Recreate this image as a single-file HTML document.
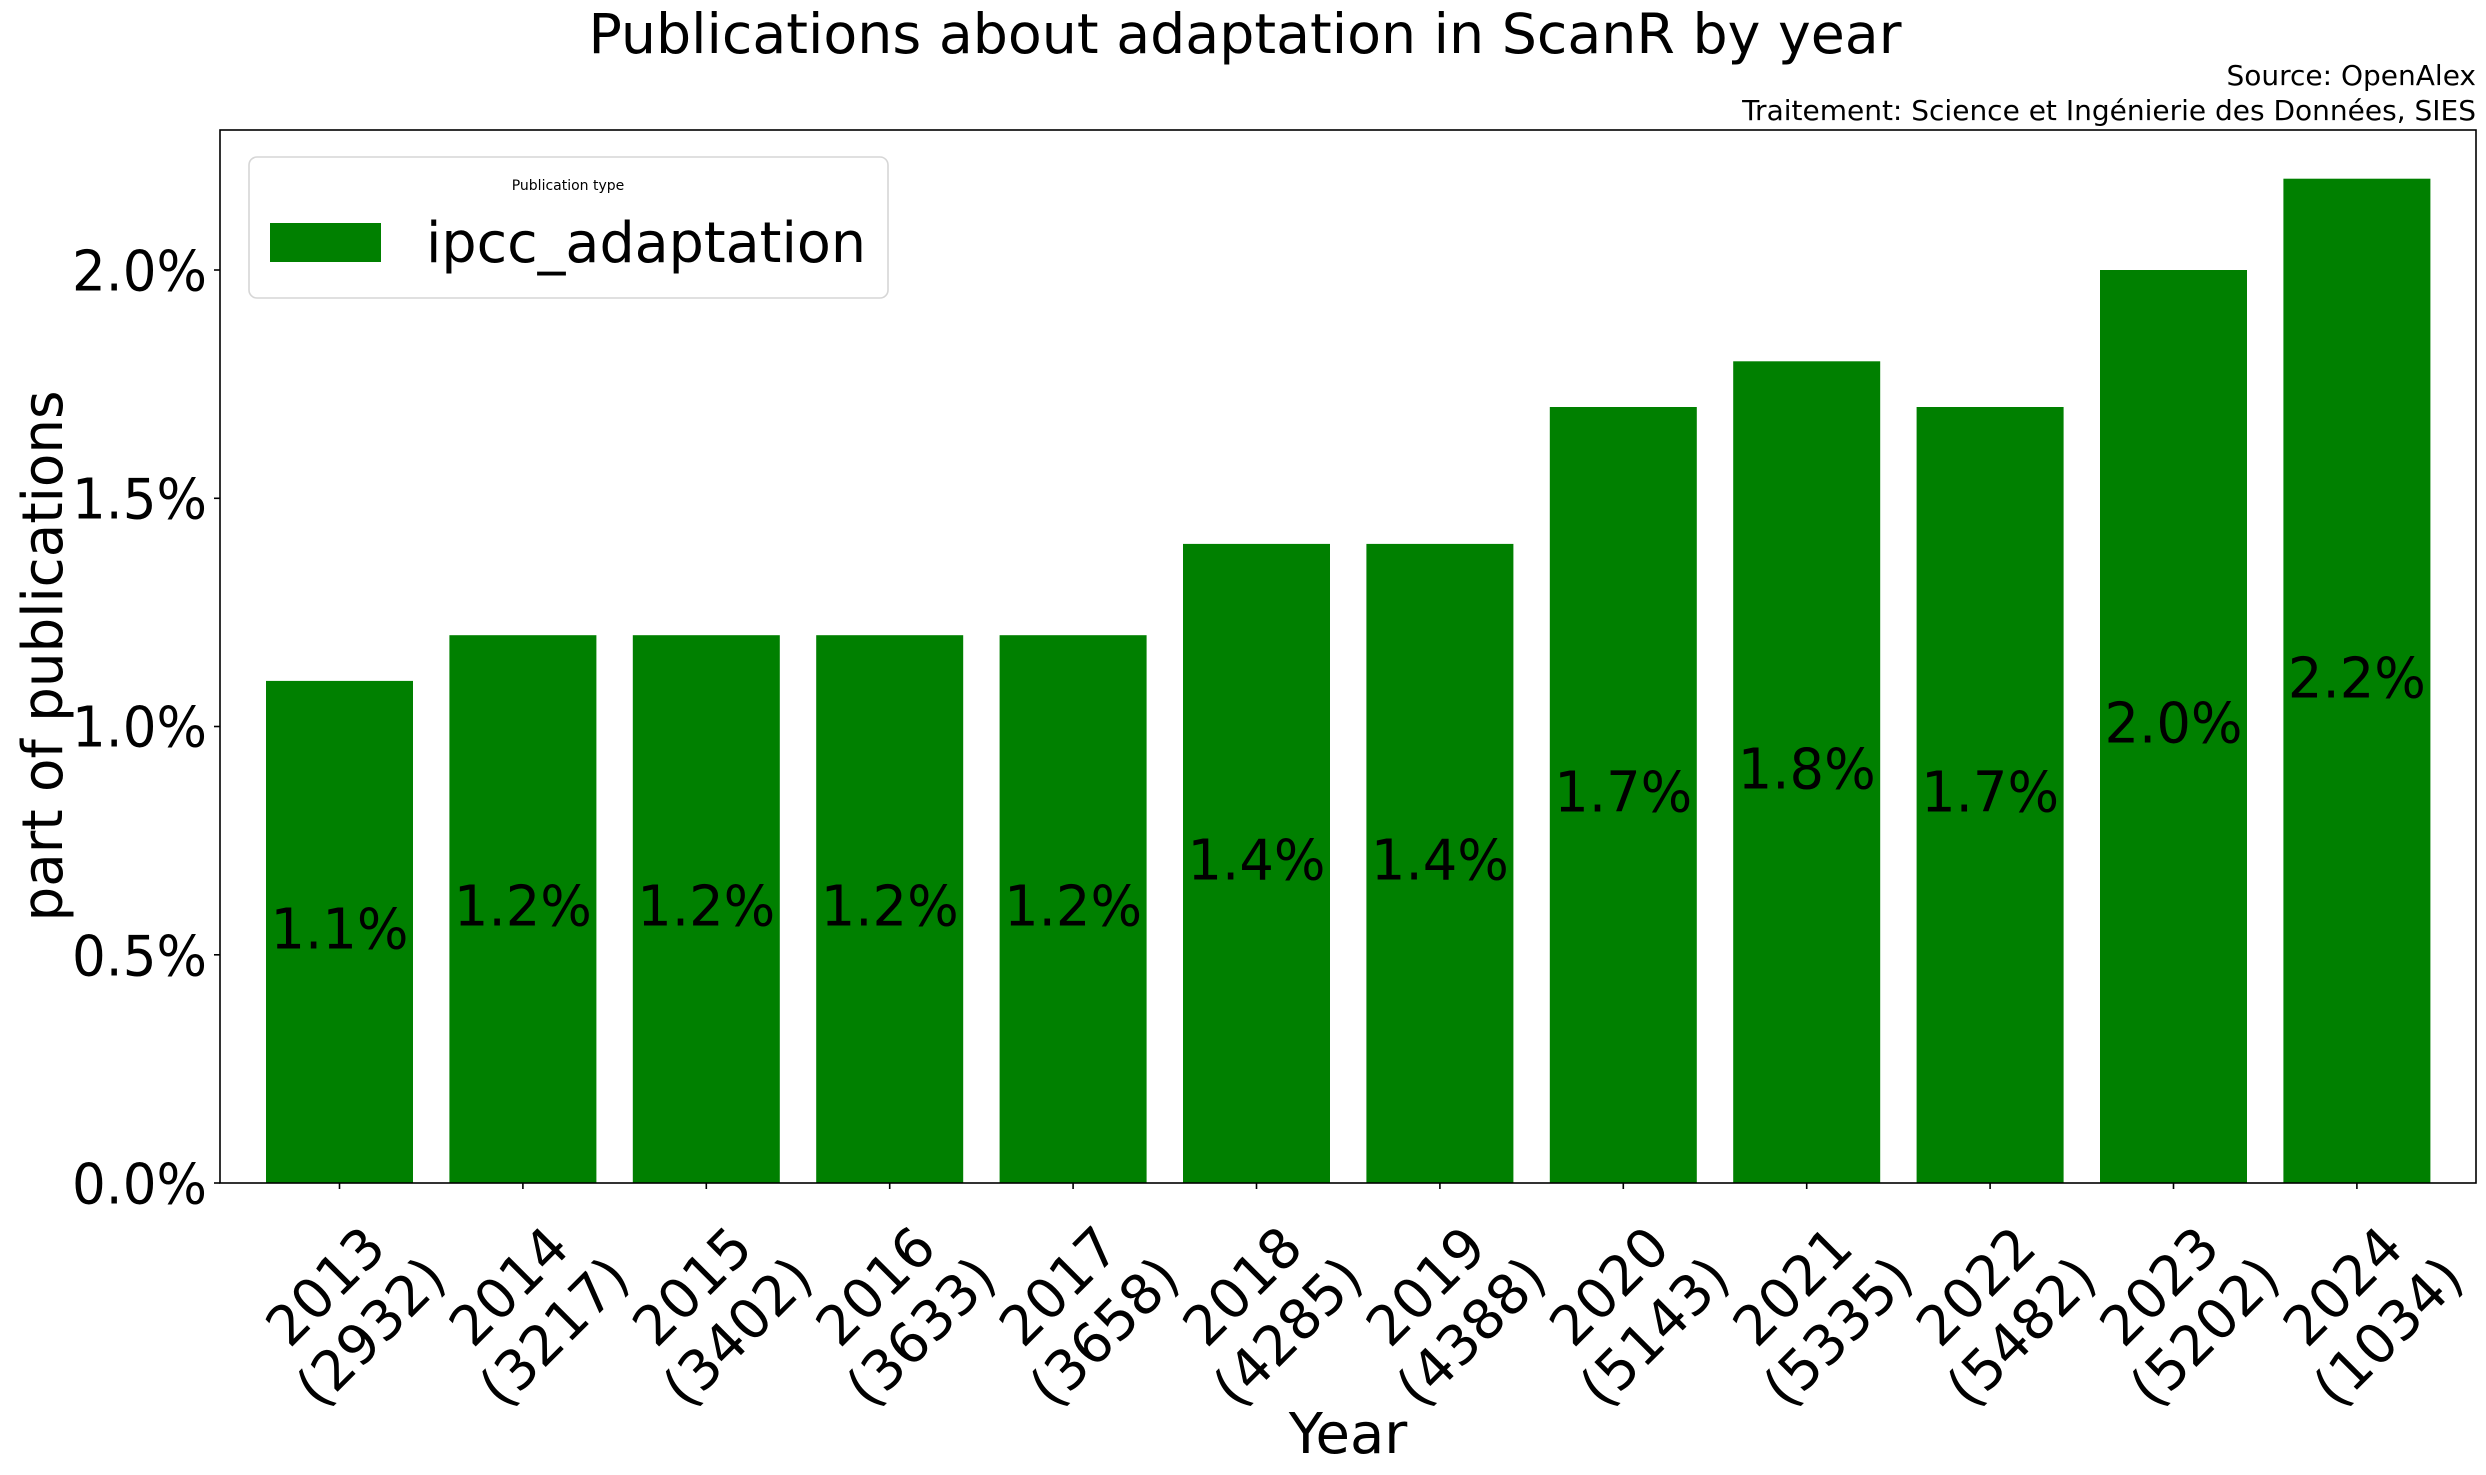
<!DOCTYPE html>
<html><head><meta charset="utf-8"><style>
html,body{margin:0;padding:0;background:#fff;}
svg{display:block;font-family:"DejaVu Sans","Liberation Sans",sans-serif;}
</style></head><body>
<svg width="2486" height="1475" viewBox="0 0 2486 1475" xmlns="http://www.w3.org/2000/svg">
<rect width="2486" height="1475" fill="#fff"/>
<text x="1245" y="53" font-size="55" text-anchor="middle" textLength="1313" lengthAdjust="spacingAndGlyphs">Publications about adaptation in ScanR by year</text>
<text x="2476" y="85" font-size="28" text-anchor="end">Source: OpenAlex</text>
<text x="2476" y="120" font-size="28" text-anchor="end">Traitement: Science et Ingénierie des Données, SIES</text>
<g fill="#008000">
<rect x="266" y="680.9" width="147" height="502.1"/>
<rect x="449.4" y="635.2" width="147" height="547.8"/>
<rect x="632.8" y="635.2" width="147" height="547.8"/>
<rect x="816.2" y="635.2" width="147" height="547.8"/>
<rect x="999.6" y="635.2" width="147" height="547.8"/>
<rect x="1183" y="543.9" width="147" height="639.1"/>
<rect x="1366.4" y="543.9" width="147" height="639.1"/>
<rect x="1549.8" y="407" width="147" height="776"/>
<rect x="1733.2" y="361.3" width="147" height="821.7"/>
<rect x="1916.6" y="407" width="147" height="776"/>
<rect x="2100" y="270" width="147" height="913"/>
<rect x="2283.4" y="178.7" width="147" height="1004.3"/>
</g>
<g font-size="56" text-anchor="middle" dominant-baseline="central" lengthAdjust="spacingAndGlyphs">
<text x="339.5" y="930" textLength="138" lengthAdjust="spacingAndGlyphs">1.1%</text>
<text x="522.9" y="907" textLength="138" lengthAdjust="spacingAndGlyphs">1.2%</text>
<text x="706.3" y="907" textLength="138" lengthAdjust="spacingAndGlyphs">1.2%</text>
<text x="889.7" y="907" textLength="138" lengthAdjust="spacingAndGlyphs">1.2%</text>
<text x="1073.1" y="907" textLength="138" lengthAdjust="spacingAndGlyphs">1.2%</text>
<text x="1256.5" y="861" textLength="138" lengthAdjust="spacingAndGlyphs">1.4%</text>
<text x="1439.9" y="861" textLength="138" lengthAdjust="spacingAndGlyphs">1.4%</text>
<text x="1623.3" y="793" textLength="138" lengthAdjust="spacingAndGlyphs">1.7%</text>
<text x="1806.7" y="770" textLength="138" lengthAdjust="spacingAndGlyphs">1.8%</text>
<text x="1990.1" y="793" textLength="138" lengthAdjust="spacingAndGlyphs">1.7%</text>
<text x="2173.5" y="724" textLength="138" lengthAdjust="spacingAndGlyphs">2.0%</text>
<text x="2356.9" y="679" textLength="138" lengthAdjust="spacingAndGlyphs">2.2%</text>
</g>
<rect x="220" y="130" width="2256" height="1053" fill="none" stroke="#000" stroke-width="1.6"/>
<g stroke="#000" stroke-width="1.6">
<line x1="214" y1="1183" x2="220" y2="1183"/>
<line x1="214" y1="954.8" x2="220" y2="954.8"/>
<line x1="214" y1="726.5" x2="220" y2="726.5"/>
<line x1="214" y1="498.3" x2="220" y2="498.3"/>
<line x1="214" y1="270" x2="220" y2="270"/>
</g>
<g font-size="56" text-anchor="end" dominant-baseline="central">
<text x="207" y="1185" textLength="135" lengthAdjust="spacingAndGlyphs">0.0%</text>
<text x="207" y="957" textLength="135" lengthAdjust="spacingAndGlyphs">0.5%</text>
<text x="207" y="728" textLength="135" lengthAdjust="spacingAndGlyphs">1.0%</text>
<text x="207" y="500" textLength="135" lengthAdjust="spacingAndGlyphs">1.5%</text>
<text x="207" y="272" textLength="135" lengthAdjust="spacingAndGlyphs">2.0%</text>
</g>
<g stroke="#000" stroke-width="1.6">
<line x1="339.5" y1="1183" x2="339.5" y2="1189"/><line x1="522.9" y1="1183" x2="522.9" y2="1189"/><line x1="706.3" y1="1183" x2="706.3" y2="1189"/><line x1="889.7" y1="1183" x2="889.7" y2="1189"/><line x1="1073.1" y1="1183" x2="1073.1" y2="1189"/><line x1="1256.5" y1="1183" x2="1256.5" y2="1189"/><line x1="1439.9" y1="1183" x2="1439.9" y2="1189"/><line x1="1623.3" y1="1183" x2="1623.3" y2="1189"/><line x1="1806.7" y1="1183" x2="1806.7" y2="1189"/><line x1="1990.1" y1="1183" x2="1990.1" y2="1189"/><line x1="2173.5" y1="1183" x2="2173.5" y2="1189"/><line x1="2356.9" y1="1183" x2="2356.9" y2="1189"/>
</g>
<g font-size="55" text-anchor="middle">
<g transform="translate(346,1307) rotate(-45)"><text y="-10">2013</text><text y="54">(2932)</text></g>
<g transform="translate(529.4,1307) rotate(-45)"><text y="-10">2014</text><text y="54">(3217)</text></g>
<g transform="translate(712.8,1307) rotate(-45)"><text y="-10">2015</text><text y="54">(3402)</text></g>
<g transform="translate(896.2,1307) rotate(-45)"><text y="-10">2016</text><text y="54">(3633)</text></g>
<g transform="translate(1079.6,1307) rotate(-45)"><text y="-10">2017</text><text y="54">(3658)</text></g>
<g transform="translate(1263,1307) rotate(-45)"><text y="-10">2018</text><text y="54">(4285)</text></g>
<g transform="translate(1446.4,1307) rotate(-45)"><text y="-10">2019</text><text y="54">(4388)</text></g>
<g transform="translate(1629.8,1307) rotate(-45)"><text y="-10">2020</text><text y="54">(5143)</text></g>
<g transform="translate(1813.2,1307) rotate(-45)"><text y="-10">2021</text><text y="54">(5335)</text></g>
<g transform="translate(1996.6,1307) rotate(-45)"><text y="-10">2022</text><text y="54">(5482)</text></g>
<g transform="translate(2180,1307) rotate(-45)"><text y="-10">2023</text><text y="54">(5202)</text></g>
<g transform="translate(2363.4,1307) rotate(-45)"><text y="-10">2024</text><text y="54">(1034)</text></g>
</g>
<text x="1348" y="1453" font-size="56" text-anchor="middle">Year</text>
<text transform="translate(62,656) rotate(-90)" font-size="56" text-anchor="middle" textLength="531" lengthAdjust="spacingAndGlyphs">part of publications</text>
<rect x="249" y="157" width="639" height="141" rx="8" fill="#fff" fill-opacity="0.8" stroke="#d6d6d6" stroke-width="1.6"/>
<text x="568" y="190" font-size="14" text-anchor="middle">Publication type</text>
<rect x="270" y="223" width="111" height="39" fill="#008000"/>
<text x="426" y="262" font-size="56" textLength="440" lengthAdjust="spacingAndGlyphs">ipcc_adaptation</text>
</svg>
</body></html>
